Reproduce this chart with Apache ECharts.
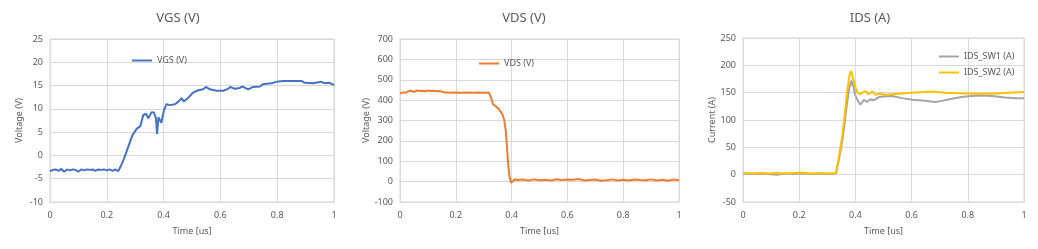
<!DOCTYPE html>
<html><head><meta charset="utf-8">
<script src="https://cdn.jsdelivr.net/npm/echarts@6/dist/echarts.min.js"></script>
<style>html,body{margin:0;padding:0;background:#fff}#c{width:1038px;height:249px}</style>
</head><body><div id="c"></div>
<script>
const titles = ['VGS (V)', 'VDS (V)', 'IDS (A)'];
const xTicks = [0, 0.2, 0.4, 0.6, 0.8, 1];

const vgsT = [0,0.01,0.02,0.03,0.04,0.05,0.06,0.07,0.08,0.09,0.10,0.11,0.12,0.13,0.14,0.15,0.16,0.17,0.18,0.19,0.20,0.21,0.22,0.23,0.24,0.25,0.26,0.275,0.29,0.305,0.318,0.328,0.337,0.346,0.358,0.366,0.373,0.377,0.382,0.392,0.401,0.41,0.422,0.44,0.451,0.463,0.471,0.487,0.504,0.522,0.539,0.549,0.563,0.586,0.61,0.627,0.635,0.651,0.668,0.677,0.698,0.715,0.739,0.75,0.762,0.78,0.797,0.821,0.856,0.885,0.897,0.926,0.955,0.967,0.985,1.0];
const vgsV = [-3.4,-3.1,-3.0,-3.3,-2.9,-3.5,-3.0,-3.2,-3.0,-3.1,-3.5,-3.0,-3.2,-3.0,-3.1,-3.0,-3.3,-3.0,-3.1,-3.0,-3.2,-3.0,-3.3,-3.0,-3.4,-2.2,-0.8,1.8,4.3,5.7,6.3,8.6,9.0,8.0,9.3,9.2,8.0,4.6,8.2,7.0,9.6,11.0,10.8,11.0,11.5,12.3,11.6,12.4,13.5,14.0,14.2,14.7,14.2,13.9,13.9,14.3,14.7,14.3,14.5,14.8,14.2,14.7,14.8,15.3,15.4,15.5,15.8,16.0,16.0,16.0,15.6,15.5,15.8,15.5,15.6,15.1];

const vdsT = [0,0.01,0.02,0.03,0.04,0.05,0.06,0.07,0.08,0.09,0.10,0.11,0.12,0.13,0.14,0.15,0.16,0.17,0.18,0.20,0.22,0.24,0.26,0.28,0.30,0.319,0.327,0.333,0.343,0.355,0.367,0.374,0.379,0.384,0.388,0.393,0.398,0.403,0.412,0.42,0.44,0.46,0.48,0.50,0.52,0.54,0.56,0.58,0.60,0.62,0.64,0.66,0.68,0.70,0.72,0.74,0.76,0.78,0.80,0.82,0.84,0.86,0.88,0.90,0.92,0.94,0.96,0.98,1.0];
const vdsV = [432,438,436,444,446,440,447,445,446,444,447,445,446,444,445,442,437,438,436,437,436,437,436,437,436,437,410,380,370,355,330,300,250,160,80,20,-5,0,12,8,10,6,11,7,9,5,12,8,10,9,13,6,8,10,4,7,11,6,9,5,10,8,7,11,6,9,4,10,7];

const idsT1 = [0,0.03,0.06,0.09,0.12,0.15,0.18,0.21,0.24,0.27,0.3,0.331,0.342,0.353,0.362,0.37,0.378,0.386,0.393,0.40,0.409,0.418,0.43,0.441,0.453,0.465,0.483,0.50,0.53,0.566,0.601,0.649,0.684,0.708,0.743,0.778,0.814,0.85,0.885,0.932,0.97,1.0];
const idsV1 = [2,1,2,1,0,2,1,2,1,2,1,2,30,60,95,130,158,172,160,145,135,128,137,133,138,136,142,143,144,140,137,135,133,135,139,142,144,145,144,141,140,140];
const idsT2 = [0,0.03,0.06,0.09,0.12,0.15,0.18,0.21,0.24,0.27,0.3,0.331,0.342,0.353,0.362,0.37,0.378,0.385,0.392,0.40,0.408,0.416,0.424,0.436,0.447,0.459,0.471,0.483,0.507,0.554,0.601,0.672,0.72,0.767,0.826,0.885,0.944,1.0];
const idsV2 = [3,2,3,2,3,2,3,4,2,3,2,3,35,70,110,150,180,190,175,160,150,147,150,153,147,152,146,148,146,148,150,152,150,149,148,148,150,151];

const yRanges = [[-10, 25, 5], [-100, 700, 100], [-50, 250, 50]];
const yNames = ['Voltage (V)', 'Voltage (V)', 'Current (A)'];

const pair = (t, v) => t.map((x, i) => [x, v[i]]);
const txt = '#595959', gridC = '#d9d9d9', font = 'Noto Sans';

const grids = [
  {left: 50, right: 704, top: 39, bottom: 47},
  {left: 400, right: 359, top: 39, bottom: 47},
  {left: 743, right: 14, top: 38, bottom: 47}
].map(g => Object.assign(g, {show: true, borderColor: gridC, borderWidth: 1, containLabel: false}));

const centers = [173, 519, 865];

const option = {
  animation: false,
  textStyle: {fontFamily: font},
  title: titles.map((t, i) => ({text: t, left: centers[i], top: 7, textAlign: 'center',
    textStyle: {fontSize: 13, fontWeight: 'normal', color: txt, fontFamily: font}})),
  grid: grids,
  xAxis: [0,1,2].map(i => ({type: 'value', gridIndex: i, min: 0, max: 1, interval: 0.2,
    name: 'Time [us]', nameLocation: 'middle', nameGap: 25,
    nameTextStyle: {fontSize: 9, color: txt},
    axisLine: {show: true, onZero: false, lineStyle: {color: gridC}}, axisTick: {show: false},
    axisLabel: {fontSize: 9, color: txt, margin: 9},
    splitLine: {show: true, lineStyle: {color: gridC}}})),
  yAxis: [0,1,2].map(i => ({type: 'value', gridIndex: i, min: yRanges[i][0], max: yRanges[i][1], interval: yRanges[i][2],
    name: yNames[i], nameLocation: 'middle', nameGap: 26,
    nameTextStyle: {fontSize: 9, color: txt},
    axisLine: {show: true, lineStyle: {color: gridC}}, axisTick: {show: false},
    axisLabel: {fontSize: 9, color: txt, margin: 7},
    splitLine: {show: true, lineStyle: {color: gridC}}})),
  legend: [
    {data: ['VGS (V)'], left: 127, top: 51, icon: 'rect', itemWidth: 20, itemHeight: 2,
     textStyle: {fontSize: 9, color: txt}},
    {data: ['VDS (V)'], left: 474, top: 54, icon: 'rect', itemWidth: 20, itemHeight: 2,
     textStyle: {fontSize: 9, color: txt}},
    {data: ['IDS_SW1 (A)', 'IDS_SW2 (A)'], orient: 'vertical', left: 934, top: 47, itemGap: 7,
     icon: 'rect', itemWidth: 20, itemHeight: 2, textStyle: {fontSize: 9, color: txt}}
  ],
  series: [
    {name: 'VGS (V)', type: 'line', xAxisIndex: 0, yAxisIndex: 0, data: pair(vgsT, vgsV), showSymbol: false,
     lineStyle: {color: '#4472C4', width: 2}, itemStyle: {color: '#4472C4'}},
    {name: 'VDS (V)', type: 'line', xAxisIndex: 1, yAxisIndex: 1, data: pair(vdsT, vdsV), showSymbol: false,
     lineStyle: {color: '#ED7D31', width: 2}, itemStyle: {color: '#ED7D31'}},
    {name: 'IDS_SW1 (A)', type: 'line', xAxisIndex: 2, yAxisIndex: 2, data: pair(idsT1, idsV1), showSymbol: false,
     lineStyle: {color: '#A5A5A5', width: 2}, itemStyle: {color: '#A5A5A5'}},
    {name: 'IDS_SW2 (A)', type: 'line', xAxisIndex: 2, yAxisIndex: 2, data: pair(idsT2, idsV2), showSymbol: false,
     lineStyle: {color: '#FFC000', width: 2}, itemStyle: {color: '#FFC000'}}
  ]
};
const chart = echarts.init(document.getElementById('c'), null, {renderer: 'canvas'});
chart.setOption(option);
</script>
</body></html>
